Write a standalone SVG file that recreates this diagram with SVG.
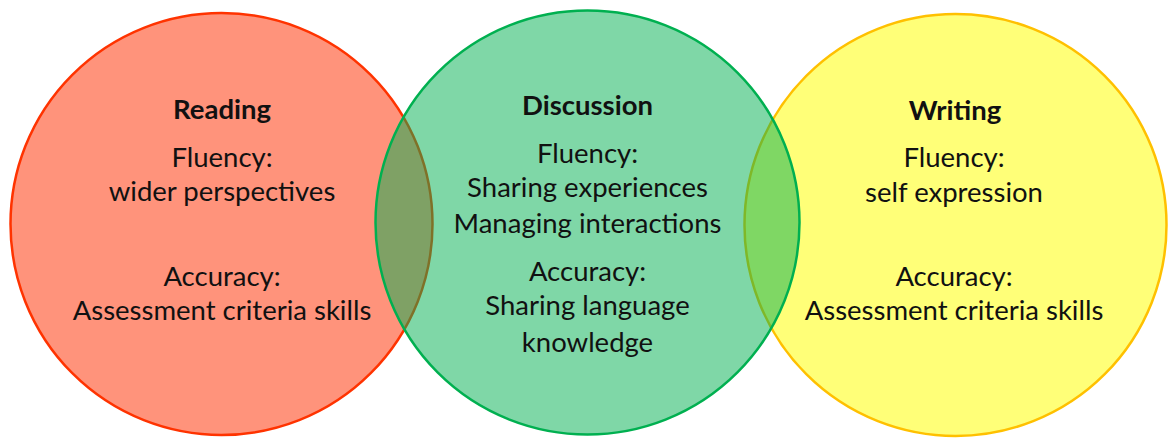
<svg xmlns="http://www.w3.org/2000/svg" width="1173" height="443" viewBox="0 0 1173 443">
<style>
text{font-family:Lato,"Liberation Sans",sans-serif;font-size:27.5px;fill:#111;text-anchor:middle}
.t{font-weight:bold}
.c{stroke-width:2.5}
</style>
<rect width="1173" height="443" fill="#fff"/>
<g id="reading">
<circle class="c" cx="221.5" cy="224" r="211" fill="#FF937B" stroke="#FF3300"/>
</g>
<g id="writing">
<circle class="c" cx="955.5" cy="225" r="211" fill="#FFFF78" stroke="#FFC000"/>
</g>
<g id="discussion">
<circle class="c" cx="587.5" cy="222.5" r="212" fill="#00B050" fill-opacity="0.5" stroke="#00B050"/>
</g>
<g id="reading-text">
<text class="t" x="222" y="119">Reading</text>
<text x="222" y="167">Fluency:</text>
<text x="222" y="201">wider perspectives</text>
<text x="222" y="286">Accuracy:</text>
<text x="222" y="320">Assessment criteria skills</text>
</g>
<g id="discussion-text">
<text class="t" x="587.5" y="115">Discussion</text>
<text x="587.5" y="163">Fluency:</text>
<text x="587.5" y="197">Sharing experiences</text>
<text x="587.5" y="233">Managing interactions</text>
<text x="587.5" y="281">Accuracy:</text>
<text x="587.5" y="315">Sharing language</text>
<text x="587.5" y="352">knowledge</text>
</g>
<g id="writing-text">
<text class="t" x="955" y="120">Writing</text>
<text x="954" y="167">Fluency:</text>
<text x="954" y="202">self expression</text>
<text x="954" y="286">Accuracy:</text>
<text x="954" y="320">Assessment criteria skills</text>
</g>
</svg>
